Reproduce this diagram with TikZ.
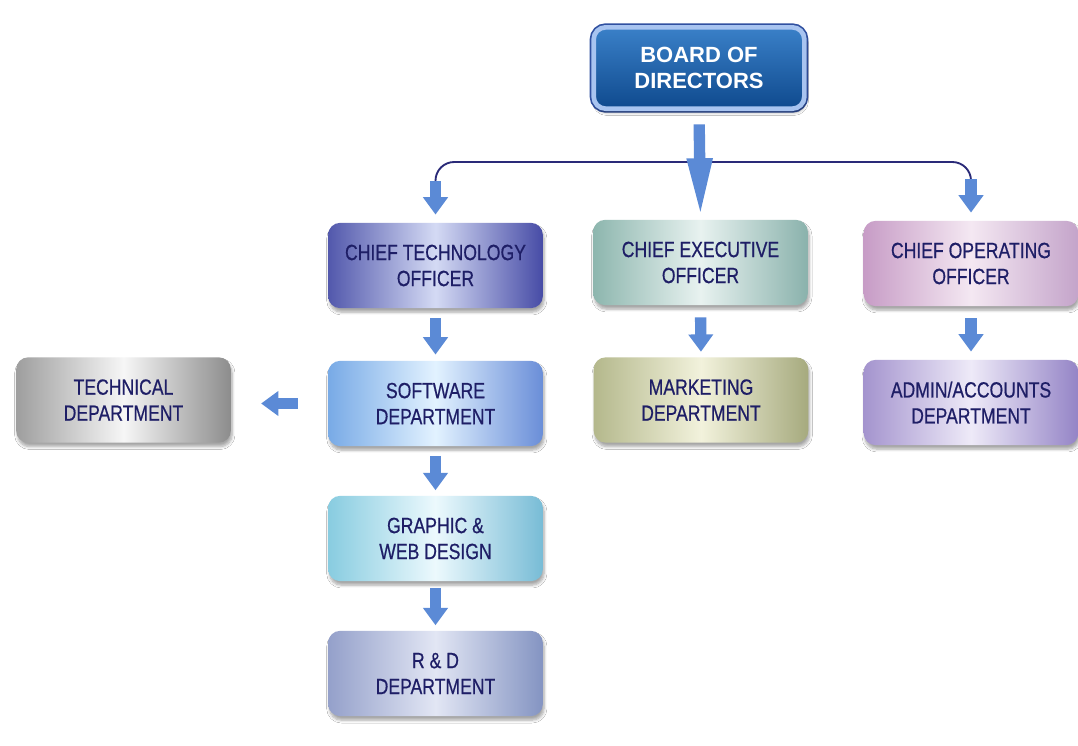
\documentclass[tikz,border=0pt]{standalone}
\usepackage{fontspec}
\setmainfont{Liberation Sans}
\newfontfamily\narrowfont[FakeStretch=0.8,FakeBold=0.6]{Liberation Sans}
\usetikzlibrary{arrows.meta,shadows.blur,calc}
\definecolor{arrowblue}{HTML}{5B8AD6}
\definecolor{navytext}{HTML}{1E1E66}
\definecolor{branchnavy}{HTML}{2A2A78}
\definecolor{bdtop}{HTML}{3A80C8}
\definecolor{bdbot}{HTML}{0F4A8E}
\definecolor{bdrim}{HTML}{A8C4F0}
\definecolor{bdedge}{HTML}{3050A0}
\definecolor{ctoA}{HTML}{5258AC}\definecolor{ctoB}{HTML}{D4DAF4}\definecolor{ctoC}{HTML}{474CA6}
\definecolor{ceoA}{HTML}{8DB6AE}\definecolor{ceoB}{HTML}{E8F2F0}\definecolor{ceoC}{HTML}{8AB2AC}
\definecolor{cooA}{HTML}{C79CC6}\definecolor{cooB}{HTML}{F4E8F2}\definecolor{cooC}{HTML}{C4A4CA}
\definecolor{swA}{HTML}{78AAE6}\definecolor{swB}{HTML}{E2F2FF}\definecolor{swC}{HTML}{6A8ED8}
\definecolor{mkA}{HTML}{B4B88C}\definecolor{mkB}{HTML}{F2F2DC}\definecolor{mkC}{HTML}{A6AA7E}
\definecolor{adA}{HTML}{A494CE}\definecolor{adB}{HTML}{EEEAF8}\definecolor{adC}{HTML}{9484C6}
\definecolor{teA}{HTML}{9E9E9E}\definecolor{teB}{HTML}{F6F6F6}\definecolor{teC}{HTML}{8C8C8C}
\definecolor{grA}{HTML}{88CCE0}\definecolor{grB}{HTML}{ECF9FD}\definecolor{grC}{HTML}{78BCD6}
\definecolor{rdA}{HTML}{94A0CA}\definecolor{rdB}{HTML}{E2E6F4}\definecolor{rdC}{HTML}{8494C2}
\tikzset{
  orgbox/.style={rounded corners=9pt, minimum width=161pt, minimum height=64pt,
    inner sep=2pt, align=center, text=navytext,
    font=\narrowfont\fontsize{16.5}{19.5}\selectfont,
    blur shadow={shadow xshift=1pt, shadow yshift=-3pt, shadow blur steps=6, shadow opacity=35}},
  shade3/.style n args={3}{left color=#1, right color=#3, middle color=#2},
  barrow/.style={draw=arrowblue, line width=8.5pt, -{Triangle[length=13pt,width=18pt]}},
  branch/.style={draw=branchnavy, line width=1.4pt, rounded corners=14pt},
}
\begin{document}
\begin{tikzpicture}[x=0.75pt,y=-0.75pt]
\useasboundingbox (0,0) rectangle (1078,746);
\fill[white] (0,0) rectangle (1078,746);

% board
\node[rounded corners=9pt, minimum width=158pt, minimum height=61pt, align=center,
  text=white, font=\bfseries\fontsize{16.5}{20}\selectfont,
  top color=bdtop, bottom color=bdbot, draw=bdrim, line width=3.5pt,
  preaction={draw=bdedge, line width=6pt, rounded corners=9pt},
  blur shadow={shadow xshift=1pt, shadow yshift=-3pt, shadow blur steps=6, shadow opacity=35}]
  (board) at (699,68) {BOARD OF\\DIRECTORS};

\node[orgbox, shade3={ctoA}{ctoB}{ctoC}] (cto) at (435.5,265.5) {CHIEF TECHNOLOGY\\OFFICER};
\node[orgbox, shade3={ceoA}{ceoB}{ceoC}] (ceo) at (700.5,262.5) {CHIEF EXECUTIVE\\OFFICER};
\node[orgbox, shade3={cooA}{cooB}{cooC}] (coo) at (971,263.5) {CHIEF OPERATING\\OFFICER};
\node[orgbox, shade3={swA}{swB}{swC}] (sw) at (435.5,403.5) {SOFTWARE\\DEPARTMENT};
\node[orgbox, shade3={mkA}{mkB}{mkC}] (mkt) at (701,400) {MARKETING\\DEPARTMENT};
\node[orgbox, shade3={adA}{adB}{adC}] (adm) at (971,402.5) {ADMIN/ACCOUNTS\\DEPARTMENT};
\node[orgbox, shade3={teA}{teB}{teC}] (tech) at (123.5,400) {TECHNICAL\\DEPARTMENT};
\node[orgbox, shade3={grA}{grB}{grC}] (gr) at (435.5,538.5) {GRAPHIC \&\\WEB DESIGN};
\node[orgbox, shade3={rdA}{rdB}{rdC}] (rd) at (435.5,673.5) {R \& D\\DEPARTMENT};

% main branching
\coordinate (hub) at (700,162);
\draw[branch] ([yshift=28pt]cto.north) |- (hub) -| ([yshift=28pt]coo.north);
\draw[barrow, -{Triangle[length=46pt,width=17pt]}, shorten <=10pt, shorten >=0pt] (board.south) -- (ceo.north);
\draw[barrow, shorten >=6pt] ([yshift=31pt]cto.north) -- (cto.north);
\draw[barrow, shorten >=6pt] ([yshift=31pt]coo.north) -- (coo.north);

% vertical short arrows
\draw[barrow, shorten <=7.5pt, shorten >=4.5pt] (cto.south) -- (sw.north);
\draw[barrow, shorten <=9pt, shorten >=4pt] (ceo.south) -- (mkt.north);
\draw[barrow, shorten <=9pt, shorten >=6pt] (coo.south) -- (adm.north);
\draw[barrow, shorten <=7pt, shorten >=4pt] (sw.south) -- (gr.north);
\draw[barrow, shorten <=5pt, shorten >=4pt] (gr.south) -- (rd.north);
\draw[barrow, shorten <=22.5pt, shorten >=22.5pt] (sw.west) -- (sw.west -| tech.east);
\end{tikzpicture}
\end{document}
